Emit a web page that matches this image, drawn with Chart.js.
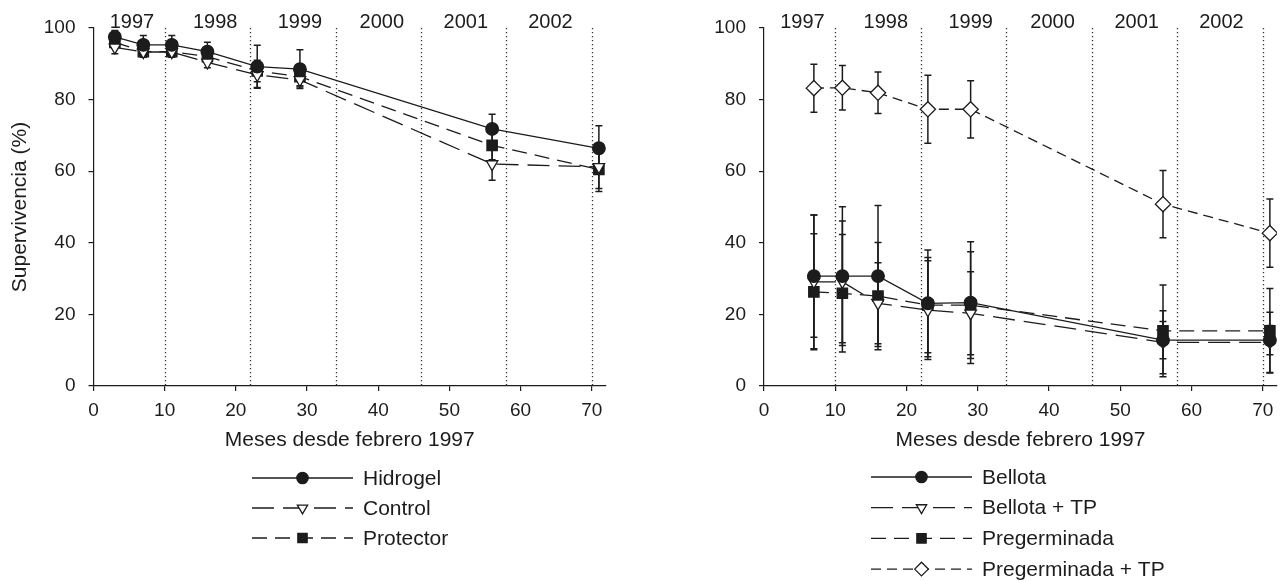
<!DOCTYPE html>
<html><head><meta charset="utf-8">
<script src="https://cdn.jsdelivr.net/npm/chart.js@4.4.0/dist/chart.umd.min.js"></script>
<style>
html,body{margin:0;padding:0;background:#fff;}
#wrap{position:relative;width:1286px;height:581px;overflow:hidden;}
.pane{position:absolute;top:0;width:643px;height:581px;}
</style></head><body>
<div id="wrap">
<div class="pane" style="left:0"><canvas id="c1" width="643" height="581"></canvas></div>
<div class="pane" style="left:643px"><canvas id="c2" width="643" height="581"></canvas></div>
</div>
<script>
// ---- data ----
const monthsLeft = [3, 7, 11, 16, 23, 29, 56, 71];
const hidrogel = [97.5, 95.3, 95.3, 93.4, 89.2, 88.5, 71.8, 66.4];
const hidrogelErr = [1.8, 2.6, 2.6, 2.6, 6.0, 5.4, 4.1, 6.3];
const control = [94.6, 93.3, 93.3, 90.4, 86.9, 85.5, 62.0, 61.2];
const controlErr = [1.8, 1.5, 1.5, 1.5, 3.5, 2.0, 4.5, 6.0];
const protector = [96.0, 93.4, 93.4, 92.0, 88.0, 86.4, 67.2, 60.5];
const protectorErr = [1.5, 1.5, 1.5, 1.5, 3.0, 2.5, 4.0, 6.2];

const monthsRight = [7, 11, 16, 23, 29, 56, 71];
const bellota = [30.7, 30.7, 30.7, 23.1, 23.3, 12.8, 12.8];
const bellotaErr = [17.1, 19.4, 19.7, 14.9, 17.0, 5.2, 4.1];
const bellotaTP = [29.1, 29.1, 23.1, 21.2, 20.3, 12.2, 12.2];
const bellotaTPErr = [18.7, 17.0, 11.3, 13.8, 11.6, 8.8, 8.4];
const pregerminada = [26.3, 25.9, 25.1, 22.6, 22.6, 15.4, 15.4];
const pregerminadaErr = [16.2, 16.4, 15.0, 13.3, 14.9, 12.8, 11.8];
const pregerminadaTP = [83.2, 83.3, 81.9, 77.3, 77.3, 50.8, 42.7];
const pregerminadaTPErr = [6.7, 6.2, 5.8, 9.5, 8.0, 9.4, 9.5];

const yearBounds = [10, 22, 34, 46, 58, 70];
const yearLabels = ['1997', '1998', '1999', '2000', '2001', '2002'];
const yearLabelPos = [5.4, 17.1, 29, 40.5, 52.3, 64.2];
const xTicks = [0, 10, 20, 30, 40, 50, 60, 70];
const yTicks = [0, 20, 40, 60, 80, 100];
const xTitle = 'Meses desde febrero 1997';
const yTitle = 'Supervivencia (%)';

// ---- styles ----
const INK = '#1c1c1c';
const FONT = '"Liberation Sans", Arial, Helvetica, sans-serif';
const FS_TICK = 19;
const FS_YEAR = 20;
const FS_TEXT = 21;
const STY = {
  solid:  {dash: [], pointStyle: 'circle', rotation: 0, radius: 6.3, fill: INK},
  tri:    {dash: [22, 9], pointStyle: 'triangle', rotation: 180, radius: 6.6, fill: '#fff'},
  square: {dash: [15, 8], pointStyle: 'rect', rotation: 0, radius: 7.3, fill: INK},
  diam:   {dash: [10, 6], pointStyle: 'rectRot', rotation: 0, radius: 7.6, fill: '#fff'}
};

function ds(label, xs, ys, errs, st) {
  return {
    label: label,
    data: xs.map((x, i) => ({x: x, y: ys[i]})),
    errors: errs,
    legendDash: st.dash,
    borderColor: INK, backgroundColor: INK, borderWidth: 1.3,
    borderDash: st.dash,
    pointStyle: st.pointStyle, pointRotation: st.rotation,
    pointRadius: st.radius, pointHoverRadius: st.radius,
    pointBackgroundColor: st.fill, pointBorderColor: INK, pointBorderWidth: 1.3,
    tension: 0, fill: false, showLine: true
  };
}

const decorPlugin = {
  id: 'decor',
  beforeDatasetsDraw(chart) {
    const {ctx, chartArea} = chart;
    const xs = chart.scales.x, ys = chart.scales.y;
    ctx.save();
    // dotted year boundaries
    ctx.strokeStyle = '#333'; ctx.lineWidth = 1.3; ctx.setLineDash([1.3, 2.7]);
    yearBounds.forEach(v => {
      const px = Math.round(xs.getPixelForValue(v)) + 0.5;
      ctx.beginPath(); ctx.moveTo(px, chartArea.top); ctx.lineTo(px, chartArea.bottom); ctx.stroke();
    });
    ctx.setLineDash([]);
    // year labels
    ctx.fillStyle = INK; ctx.font = FS_YEAR + 'px ' + FONT;
    ctx.textAlign = 'center'; ctx.textBaseline = 'middle';
    yearLabels.forEach((t, i) => ctx.fillText(t, xs.getPixelForValue(yearLabelPos[i]), chartArea.top - 6));
    // error bars
    ctx.strokeStyle = INK; ctx.lineWidth = 1.5;
    chart.data.datasets.forEach((d, di) => {
      const meta = chart.getDatasetMeta(di);
      meta.data.forEach((pt, i) => {
        const v = d.data[i].y, e = d.errors[i];
        const yt = ys.getPixelForValue(v + e), yb = ys.getPixelForValue(v - e);
        ctx.beginPath();
        ctx.moveTo(pt.x, yt); ctx.lineTo(pt.x, yb);
        ctx.moveTo(pt.x - 3.5, yt); ctx.lineTo(pt.x + 3.5, yt);
        ctx.moveTo(pt.x - 3.5, yb); ctx.lineTo(pt.x + 3.5, yb);
        ctx.stroke();
      });
    });
    ctx.restore();
  },
  afterDraw(chart) {
    const o = chart.options.plugins.decor;
    const {ctx} = chart;
    ctx.save();
    chart.data.datasets.forEach((d, i) => {
      const y = o.legendTop + i * o.legendStep;
      ctx.strokeStyle = INK; ctx.lineWidth = 1.3; ctx.setLineDash(d.legendDash);
      ctx.beginPath(); ctx.moveTo(o.legendX, y); ctx.lineTo(o.legendX + o.legendW, y); ctx.stroke();
      ctx.setLineDash([]);
      ctx.fillStyle = d.pointBackgroundColor; ctx.strokeStyle = INK; ctx.lineWidth = 1.3;
      Chart.helpers.drawPoint(ctx, {pointStyle: d.pointStyle, rotation: d.pointRotation,
        radius: d.pointRadius * 0.9, borderWidth: 1.3}, o.legendX + o.legendW / 2, y);
      ctx.fillStyle = INK; ctx.font = FS_TEXT + 'px ' + FONT; ctx.textAlign = 'left'; ctx.textBaseline = 'middle';
      ctx.fillText(d.label, o.legendX + o.legendW + 10, y + 1);
    });
    ctx.restore();
  }
};

function makeChart(id, datasets, opts) {
  return new Chart(document.getElementById(id), {
    type: 'scatter',
    data: {datasets: datasets},
    plugins: [decorPlugin],
    options: {
      responsive: false, animation: false, events: [],
      layout: {padding: {left: opts.padLeft, right: opts.padRight, top: 28, bottom: 125}},
      plugins: {
        legend: {display: false}, tooltip: {enabled: false},
        decor: {legendX: opts.legendX, legendW: 101, legendTop: opts.legendTop, legendStep: opts.legendStep}
      },
      scales: {
        x: {
          type: 'linear', min: 0, max: 72,
          afterBuildTicks: s => { s.ticks = xTicks.map(v => ({value: v})); },
          afterFit: s => { s.height = 70; },
          grid: {drawOnChartArea: false, drawTicks: true, tickLength: 5, color: INK, lineWidth: 1.2},
          border: {display: true, color: INK, width: 1.2},
          ticks: {color: INK, font: {family: FONT, size: FS_TICK}, padding: 8, maxRotation: 0},
          title: {display: true, text: xTitle, color: INK, font: {family: FONT, size: FS_TEXT}, padding: {top: 0, bottom: 3}}
        },
        y: {
          type: 'linear', min: 0, max: 100,
          afterBuildTicks: s => { s.ticks = yTicks.map(v => ({value: v})); },
          afterFit: s => { s.width = 90; },
          grid: {drawOnChartArea: false, drawTicks: true, tickLength: 5, color: INK, lineWidth: 1.2},
          border: {display: true, color: INK, width: 1.2},
          ticks: {color: INK, font: {family: FONT, size: FS_TICK}, padding: 13},
          title: {display: opts.yTitle, text: yTitle, color: INK, font: {family: FONT, size: FS_TEXT}, padding: {top: 4, bottom: 0}}
        }
      }
    }
  });
}

makeChart('c1', [
  ds('Hidrogel', monthsLeft, hidrogel, hidrogelErr, STY.solid),
  ds('Control', monthsLeft, control, controlErr, STY.tri),
  ds('Protector', monthsLeft, protector, protectorErr, STY.square)
], {padLeft: 3.5, padRight: 37, yTitle: true, legendX: 252, legendTop: 478, legendStep: 30});

makeChart('c2', [
  ds('Bellota', monthsRight, bellota, bellotaErr, STY.solid),
  ds('Bellota + TP', monthsRight, bellotaTP, bellotaTPErr, STY.tri),
  ds('Pregerminada', monthsRight, pregerminada, pregerminadaErr, STY.square),
  ds('Pregerminada + TP', monthsRight, pregerminadaTP, pregerminadaTPErr, STY.diam)
], {padLeft: 31, padRight: 9, yTitle: false, legendX: 228, legendTop: 477, legendStep: 30.7});
</script>
</body></html>
